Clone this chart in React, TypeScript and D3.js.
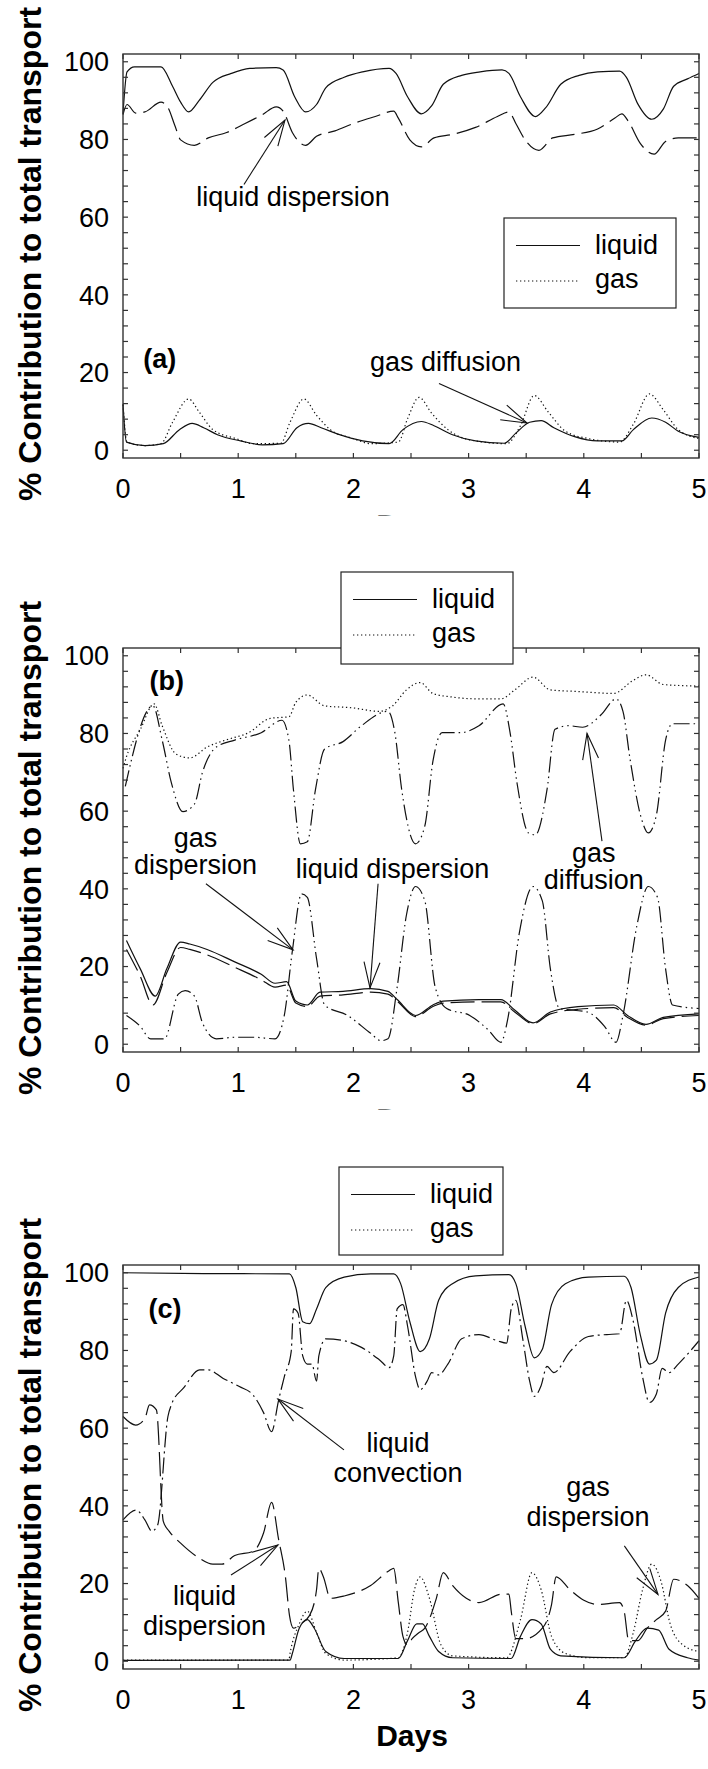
import React from 'react';
import * as d3 from 'd3';

type Pt = [number, number];

// ---- panel (a) ----
const aConvection: Pt[] = [[0,86.6],[0.035,97.4],[0.1,98.7],[0.33,98.7],[0.43,93.7],[0.5,89.6],[0.57,87.1],[0.66,90],[0.78,94.7],[0.94,97],[1.1,98.3],[1.33,98.5],[1.39,97.9],[1.49,91],[1.585,87.1],[1.68,89],[1.76,93.3],[1.92,96],[2.08,97.4],[2.31,98.3],[2.37,97],[2.47,91],[2.59,86.6],[2.68,88.7],[2.78,94.2],[2.94,96.5],[3.1,97.4],[3.29,97.9],[3.35,97],[3.45,91],[3.58,85.9],[3.67,88.2],[3.8,94.2],[3.96,96.5],[4.12,97.4],[4.31,97.6],[4.37,96],[4.47,89.1],[4.59,85.2],[4.69,87.8],[4.78,93.7],[4.9,95.6],[5,97]];
const aDispersion: Pt[] = [[0,86.4],[0.035,89],[0.11,86.8],[0.19,87.1],[0.33,89.6],[0.39,88.2],[0.45,83.6],[0.5,79.9],[0.62,78.5],[0.74,80.4],[0.9,81.8],[1.06,84.1],[1.21,86.4],[1.33,88.4],[1.39,87.3],[1.47,81.8],[1.585,78.5],[1.68,80.8],[1.84,82.2],[2.0,84.1],[2.19,85.9],[2.35,87.3],[2.39,85.5],[2.49,79.9],[2.59,78.1],[2.7,80.4],[2.86,81.3],[3.06,83.1],[3.25,85.9],[3.35,87.1],[3.41,84.1],[3.49,79.9],[3.61,77.2],[3.73,80.4],[3.92,81.3],[4.12,82.7],[4.27,85.5],[4.33,86.6],[4.39,84.5],[4.49,79],[4.61,76.2],[4.71,79.5],[4.82,80.4],[5,80.4]];
const aGasDiffusion: Pt[] = [[0,11.8],[0.035,2.1],[0.19,1.2],[0.33,1.7],[0.43,7.2],[0.57,13.2],[0.66,9.9],[0.78,5.3],[0.98,3],[1.13,1.7],[1.37,1.8],[1.45,7.2],[1.57,13.2],[1.68,9],[1.8,5.3],[2,3],[2.15,1.7],[2.39,2.1],[2.47,8.1],[2.57,13.6],[2.68,9.5],[2.82,5.3],[3.02,2.6],[3.33,1.7],[3.45,6.3],[3.57,14.1],[3.69,9.9],[3.84,4.9],[4.04,3],[4.31,2.1],[4.43,6.7],[4.57,14.5],[4.69,10.4],[4.82,5.3],[5,3]];
const aLiquidLow: Pt[] = [[0,11.8],[0.03,2.1],[0.19,1.2],[0.35,1.7],[0.49,5.3],[0.6,6.9],[0.7,5.8],[0.82,4],[1.02,2.4],[1.21,1.4],[1.39,1.7],[1.51,5.8],[1.61,6.9],[1.72,5.8],[1.88,4],[2.08,2.4],[2.31,1.7],[2.43,5.3],[2.59,7.4],[2.7,6.3],[2.86,4],[3.06,2.4],[3.31,1.8],[3.41,4.4],[3.53,7.2],[3.63,7.6],[3.74,5.8],[3.92,3.5],[4.12,2.4],[4.33,2.4],[4.43,5.3],[4.59,8.3],[4.71,7.2],[4.82,4.9],[5,3.3]];

// ---- panel (b) ----
const bGasTotal: Pt[] = [[0,71],[0.03,74],[0.15,81],[0.27,87.6],[0.34,82],[0.46,74.7],[0.58,73.7],[0.73,76.5],[0.89,78.3],[1.09,80.2],[1.28,83.9],[1.44,84.3],[1.5,88],[1.6,89.9],[1.75,87.1],[1.99,86.6],[2.22,85.7],[2.34,87.1],[2.46,91.2],[2.58,93.1],[2.69,90.3],[2.85,89.4],[3.09,88.9],[3.28,88.9],[3.4,91.2],[3.56,94.5],[3.71,91.2],[3.95,90.8],[4.26,90.3],[4.42,93.5],[4.54,95.1],[4.69,92.6],[5,92.2]];
const bGasDiffusion: Pt[] = [[0.02,66.4],[0.26,87.1],[0.34,78.3],[0.42,67.3],[0.52,59.9],[0.62,61.8],[0.69,70],[0.81,76.5],[0.97,78.3],[1.2,80.2],[1.38,83.4],[1.44,78.3],[1.48,65.4],[1.54,51.6],[1.6,52.1],[1.67,65.4],[1.75,76],[1.91,77.9],[2.07,82],[2.3,85.7],[2.36,80.2],[2.42,65.4],[2.54,51.6],[2.62,56.2],[2.69,72.8],[2.77,80.2],[2.93,80.2],[3.09,82],[3.3,87.6],[3.36,80.2],[3.42,67.3],[3.52,54.4],[3.58,53.9],[3.68,65.4],[3.75,81.1],[3.87,82],[3.99,81.6],[4.15,84.8],[4.28,88.9],[4.34,85.7],[4.4,73.7],[4.5,58.1],[4.56,54.4],[4.63,59],[4.71,78.3],[4.77,82.5],[5,82.5]];
const bGasDispersion: Pt[] = [[0.03,7.4],[0.15,4.6],[0.24,1.4],[0.36,1.4],[0.48,12.9],[0.54,13.8],[0.62,12.4],[0.69,5.5],[0.81,1.4],[0.97,1.8],[1.13,1.8],[1.32,1.4],[1.4,7.4],[1.47,24],[1.55,38.7],[1.6,37.8],[1.68,22.1],[1.75,10.1],[1.95,7.4],[2.15,2.8],[2.24,0.9],[2.3,1.4],[2.38,14.7],[2.46,33.2],[2.54,40.6],[2.62,36.9],[2.71,14.7],[2.81,9.2],[3.01,7.4],[3.17,3.7],[3.28,0.5],[3.34,6.5],[3.44,28.6],[3.56,40.6],[3.64,36.9],[3.71,19.4],[3.79,9.2],[4.03,8.3],[4.18,4.6],[4.28,0.5],[4.34,7.4],[4.46,30.4],[4.56,40.6],[4.64,37.8],[4.71,19.4],[4.77,10.1],[5,9.2]];
const bLiquidTotal: Pt[] = [[0.03,26.7],[0.15,19.4],[0.28,12.4],[0.38,19.4],[0.5,26.3],[0.58,25.8],[0.73,24.4],[0.97,21.2],[1.2,18],[1.32,15.7],[1.42,16.1],[1.5,11.1],[1.6,10.1],[1.71,13.4],[1.91,13.6],[2.15,14.3],[2.3,13.6],[2.38,11.5],[2.54,7.4],[2.69,10.1],[2.78,11.1],[3.09,11.5],[3.28,11.5],[3.4,8.8],[3.56,5.5],[3.71,8.3],[3.95,9.7],[4.26,10.1],[4.38,7.4],[4.54,5.1],[4.69,6.9],[5,7.8]];
const bLiquidDispersion: Pt[] = [[0.03,24.4],[0.15,17.5],[0.26,10.1],[0.38,18.4],[0.5,24.9],[0.58,24.4],[0.73,23],[0.97,19.8],[1.2,16.6],[1.32,14.7],[1.42,15.2],[1.5,10.6],[1.6,9.7],[1.71,12.4],[1.91,12.7],[2.15,13.4],[2.3,12.9],[2.38,11.1],[2.54,7.1],[2.69,9.7],[2.78,10.6],[3.09,10.9],[3.28,10.9],[3.4,8.3],[3.56,5.3],[3.71,7.8],[3.95,9],[4.26,9.4],[4.38,6.9],[4.54,4.9],[4.69,6.6],[5,7.4]];

// ---- panel (c) ----
const cLiquidTotal: Pt[] = [[0,100],[0.7,99.8],[1.445,99.7],[1.5,96.2],[1.56,87.4],[1.62,86.9],[1.68,90.7],[1.76,96.2],[1.92,98.9],[2.15,99.7],[2.35,99.7],[2.41,97.2],[2.49,87.4],[2.58,79.7],[2.66,83],[2.74,92.9],[2.86,97.2],[3.06,99.2],[3.35,99.5],[3.41,97.2],[3.49,86.3],[3.57,78.1],[3.64,80.3],[3.72,91.8],[3.84,97.2],[4.04,98.9],[4.35,99.1],[4.41,96.2],[4.49,84.1],[4.57,76.5],[4.63,77.5],[4.71,89.6],[4.82,96.2],[5,98.9]];
const cConvection: Pt[] = [[0,36.4],[0.115,38.9],[0.19,36.4],[0.25,33.5],[0.3,35],[0.39,63],[0.42,66],[0.53,70.5],[0.665,75],[0.74,75],[0.87,72.8],[1.01,70.7],[1.13,68.5],[1.22,64],[1.29,59.1],[1.35,67.1],[1.4,73.2],[1.46,79.7],[1.48,90.7],[1.52,89.6],[1.56,78.6],[1.6,76.5],[1.64,76.5],[1.68,72.1],[1.7,78.6],[1.76,83],[1.92,82.5],[2.07,80.8],[2.23,77.5],[2.31,75.6],[2.35,78.6],[2.38,90.7],[2.43,91.8],[2.47,86.3],[2.54,73.2],[2.58,69.9],[2.64,72.1],[2.68,74.3],[2.74,73.7],[2.82,76.5],[2.94,83],[3.09,84.1],[3.25,82.5],[3.33,81.9],[3.37,90.7],[3.41,92.9],[3.47,83],[3.53,72.1],[3.57,68.2],[3.63,71],[3.68,75.9],[3.74,74.3],[3.88,79.7],[4.04,83.6],[4.2,84.1],[4.31,84.3],[4.37,92.9],[4.43,87.4],[4.51,73.2],[4.57,66.6],[4.63,68.8],[4.68,75.4],[4.74,74.3],[4.82,76.5],[5,82.5]];
const cDispersion: Pt[] = [[0,63],[0.11,60.8],[0.19,62.5],[0.23,66],[0.29,64.7],[0.35,36],[0.4,33.5],[0.5,30.4],[0.66,26.6],[0.78,25],[0.86,25],[0.97,27.2],[1.13,28.3],[1.22,33],[1.29,40.9],[1.35,31.5],[1.41,21.7],[1.445,11.8],[1.48,8.5],[1.54,9.6],[1.62,11.8],[1.68,18.4],[1.7,23.9],[1.74,21.7],[1.8,16.2],[1.92,16.8],[2.15,19.5],[2.31,23.3],[2.35,23.9],[2.39,15.1],[2.43,6.4],[2.47,4.2],[2.51,5.8],[2.57,7.4],[2.62,8.5],[2.72,16.2],[2.78,22.8],[2.86,19.5],[2.98,16.2],[3.09,15.1],[3.29,17.3],[3.35,17.3],[3.37,12.9],[3.41,5.8],[3.49,5.8],[3.64,8.5],[3.72,14.6],[3.76,21.7],[3.88,18.4],[4,15.7],[4.12,14.6],[4.31,15.1],[4.35,12.9],[4.39,5.3],[4.47,5.3],[4.55,8.5],[4.63,10.7],[4.71,12.9],[4.78,21.1],[4.9,19.5],[5,16.2]];
const cGasDispersion: Pt[] = [[0,0.3],[1.44,0.3],[1.45,2],[1.53,9.6],[1.6,12.9],[1.68,7.4],[1.76,2],[1.92,0.3],[2.39,0.9],[2.47,7.4],[2.53,18.4],[2.58,21.7],[2.66,16.2],[2.76,4.2],[2.86,1.4],[3.33,0.9],[3.45,10.7],[3.55,22.8],[3.63,18.4],[3.72,6.4],[3.84,2],[4.04,0.9],[4.35,0.9],[4.43,7.4],[4.51,18.4],[4.59,25],[4.67,20.6],[4.75,9.6],[4.86,4.2],[5,2.5]];
const cLiquidLow: Pt[] = [[0,0.2],[1.45,0.3],[1.47,2],[1.53,8.5],[1.6,10.7],[1.66,8.5],[1.76,2.5],[1.92,0.7],[2.39,0.7],[2.47,5.3],[2.55,9.6],[2.6,9.6],[2.66,6.4],[2.74,2.5],[2.86,0.9],[3.37,0.7],[3.45,6.4],[3.55,10.7],[3.63,9.6],[3.71,3.1],[3.8,1.4],[4.35,0.9],[4.45,5.3],[4.55,8.5],[4.65,8],[4.74,3.1],[4.9,0.9],[5,0.3]];

const xTicks = [0, 1, 2, 3, 4, 5];
const yTicks = [0, 20, 40, 60, 80, 100];

const FONT = '"Liberation Sans", Arial, Helvetica, sans-serif';
const SOLID = undefined;
const DOT = '1.3,2.7';
const LDASH = '24,7';
const DDOT = '16,4,1.5,4,1.5,4';
const DDASH = '16,4,2,4';

const LEFT = 123;
const RIGHT = 699;
const PH = 404;

type Series = { data: Pt[]; dash?: string };
type Note = { lines: string[]; at: Pt; gap?: number };
type Arrow = { from: Pt; to: Pt };

interface PanelProps {
  id: string;
  top: number;
  tag: string;
  tagAt: Pt;
  series: Series[];
  notes: Note[];
  arrows: Arrow[];
  legend: { x: number; y: number; w: number; h: number };
  fullDays?: boolean;
}

const Panel = ({ id, top, tag, tagAt, series, notes, arrows, legend, fullDays }: PanelProps) => {
  const x = d3.scaleLinear().domain([0, 5]).range([LEFT, RIGHT]);
  const y = d3.scaleLinear().domain([-2, 102]).range([top + PH, top]);
  const bottom = top + PH;
  const line = d3
    .line<Pt>()
    .x((d) => x(d[0]))
    .y((d) => y(d[1]))
    .curve(d3.curveMonotoneX);

  const xMinor = d3.range(0, 5.01, 0.5);
  const yMinor = d3.range(0, 101, 4);
  const tk = 5;

  const head = (a: Arrow) => {
    const x1 = x(a.from[0]), y1 = y(a.from[1]);
    const x2 = x(a.to[0]), y2 = y(a.to[1]);
    const ang = Math.atan2(y1 - y2, x1 - x2);
    const len = 27, spread = 0.3;
    const h1 = [x2 + len * Math.cos(ang + spread), y2 + len * Math.sin(ang + spread)];
    const h2 = [x2 + len * Math.cos(ang - spread), y2 + len * Math.sin(ang - spread)];
    return (
      <g key={`ar-${a.to[0]}`} stroke="#111" strokeWidth={1.1} fill="none">
        <line x1={x1} y1={y1} x2={x2} y2={y2} />
        <path d={`M${h1[0]},${h1[1]}L${x2},${y2}L${h2[0]},${h2[1]}`} />
      </g>
    );
  };

  const midY = (top + bottom) / 2 - 2;

  return (
    <g>
      {/* y title */}
      <text
        transform={`translate(41,${midY}) rotate(-90)`}
        textAnchor="middle"
        fontFamily={FONT}
        fontWeight="bold"
        fontSize={32}
      >
        % Contribution to total transport
      </text>

      {/* series */}
      {series.map((s, i) => (
        <path key={i} d={line(s.data) || ''} fill="none" stroke="#111" strokeWidth={1.2} strokeDasharray={s.dash} />
      ))}

      {/* frame */}
      <rect x={LEFT} y={top} width={RIGHT - LEFT} height={PH} fill="none" stroke="#333" strokeWidth={1.4} />
      {xMinor.map((v) => (
        <g key={`xt${v}`} stroke="#333" strokeWidth={1.2}>
          <line x1={x(v)} x2={x(v)} y1={bottom} y2={bottom - tk} />
          <line x1={x(v)} x2={x(v)} y1={top} y2={top + tk} />
        </g>
      ))}
      {yMinor.map((v) => (
        <g key={`yt${v}`} stroke="#333" strokeWidth={1.2}>
          <line x1={LEFT} x2={LEFT + tk} y1={y(v)} y2={y(v)} />
          <line x1={RIGHT} x2={RIGHT - tk} y1={y(v)} y2={y(v)} />
        </g>
      ))}
      {xTicks.map((v) => (
        <text key={`xl${v}`} x={x(v)} y={bottom + 30} dy="0.36em" textAnchor="middle" fontFamily={FONT} fontSize={27}>
          {v}
        </text>
      ))}
      {yTicks.map((v) => (
        <text key={`yl${v}`} x={LEFT - 14} y={y(v)} dy="0.36em" textAnchor="end" fontFamily={FONT} fontSize={27}>
          {v}
        </text>
      ))}

      {/* Days label (clipped in the upper panels) */}
      <clipPath id={`clip-${id}`}>
        <rect x={0} y={bottom + 54} width={708} height={fullDays ? 60 : 3.5} />
      </clipPath>
      <text
        x={(LEFT + RIGHT) / 2 + 1}
        y={bottom + 76.5}
        textAnchor="middle"
        fontFamily={FONT}
        fontWeight="bold"
        fontSize={30}
        clipPath={`url(#clip-${id})`}
      >
        Days
      </text>

      {/* tag */}
      <text x={x(tagAt[0])} y={y(tagAt[1])} dy="0.36em" textAnchor="middle" fontFamily={FONT} fontWeight="bold" fontSize={27}>
        {tag}
      </text>

      {/* annotations */}
      {notes.map((n, i) =>
        n.lines.map((t, j) => (
          <text
            key={`n${i}-${j}`}
            x={x(n.at[0])}
            y={y(n.at[1]) + j * (n.gap ?? 28)}
            dy="0.3em"
            textAnchor="middle"
            fontFamily={FONT}
            fontSize={27}
          >
            {t}
          </text>
        ))
      )}
      {arrows.map(head)}

      {/* legend */}
      <g>
        <rect x={legend.x} y={legend.y} width={legend.w} height={legend.h} fill="#fff" stroke="#222" strokeWidth={1.2} />
        <line x1={legend.x + 12} x2={legend.x + 76} y1={legend.y + 27.5} y2={legend.y + 27.5} stroke="#111" strokeWidth={1.2} />
        <line x1={legend.x + 12} x2={legend.x + 76} y1={legend.y + 63} y2={legend.y + 63} stroke="#111" strokeWidth={1.2} strokeDasharray={DOT} />
        <text x={legend.x + 91} y={legend.y + 27.5} dy="0.3em" fontFamily={FONT} fontSize={27}>
          liquid
        </text>
        <text x={legend.x + 91} y={legend.y + 63} dy="0.25em" fontFamily={FONT} fontSize={27}>
          gas
        </text>
      </g>
    </g>
  );
};

export default function App() {
  return (
    <svg width={708} height={1769} viewBox="0 0 708 1769" style={{ position: 'absolute', left: 0, top: 0, background: '#fff' }}>
      <rect width={708} height={1769} fill="#fff" />
      <Panel
        id="a"
        top={54}
        tag="(a)"
        tagAt={[0.32, 23.7]}
        series={[
          { data: aConvection, dash: SOLID },
          { data: aDispersion, dash: LDASH },
          { data: aGasDiffusion, dash: DOT },
          { data: aLiquidLow, dash: SOLID },
        ]}
        notes={[
          { lines: ['liquid dispersion'], at: [1.476, 65] },
          { lines: ['gas diffusion'], at: [2.8, 22.5] },
        ]}
        arrows={[
          { from: [1.05, 68.4], to: [1.406, 85.0] },
          { from: [2.743, 17.2], to: [3.507, 7.0] },
        ]}
        legend={{ x: 504, y: 218, w: 172, h: 90 }}
      />
      <Panel
        id="b"
        top={648}
        tag="(b)"
        tagAt={[0.38, 93.8]}
        series={[
          { data: bGasTotal, dash: DOT },
          { data: bGasDiffusion, dash: DDOT },
          { data: bGasDispersion, dash: DDOT },
          { data: bLiquidTotal, dash: SOLID },
          { data: bLiquidDispersion, dash: LDASH },
        ]}
        notes={[
          { lines: ['gas', 'dispersion'], at: [0.63, 52.8], gap: 27 },
          { lines: ['liquid dispersion'], at: [2.34, 45.0] },
          { lines: ['gas', 'diffusion'], at: [4.086, 49.1], gap: 27 },
        ]}
        arrows={[
          { from: [0.72, 41.3], to: [1.476, 24.3] },
          { from: [2.214, 41.3], to: [2.144, 14.5] },
          { from: [4.158, 52.3], to: [4.028, 80.0] },
        ]}
        legend={{ x: 341, y: 572, w: 172, h: 92 }}
      />
      <Panel
        id="c"
        top={1265}
        tag="(c)"
        tagAt={[0.365, 90.9]}
        series={[
          { data: cLiquidTotal, dash: SOLID },
          { data: cConvection, dash: DDASH },
          { data: cDispersion, dash: LDASH },
          { data: cGasDispersion, dash: DOT },
          { data: cLiquidLow, dash: SOLID },
        ]}
        notes={[
          { lines: ['liquid', 'convection'], at: [2.387, 55.9], gap: 30 },
          { lines: ['liquid', 'dispersion'], at: [0.707, 16.6], gap: 30 },
          { lines: ['gas', 'dispersion'], at: [4.036, 44.6], gap: 30 },
        ]}
        arrows={[
          { from: [1.918, 54.4], to: [1.345, 67.5] },
          { from: [0.9375, 22.2], to: [1.345, 29.9] },
          { from: [4.352, 29.7], to: [4.644, 17.2] },
        ]}
        legend={{ x: 339, y: 1167, w: 164, h: 88 }}
        fullDays
      />
    </svg>
  );
}
